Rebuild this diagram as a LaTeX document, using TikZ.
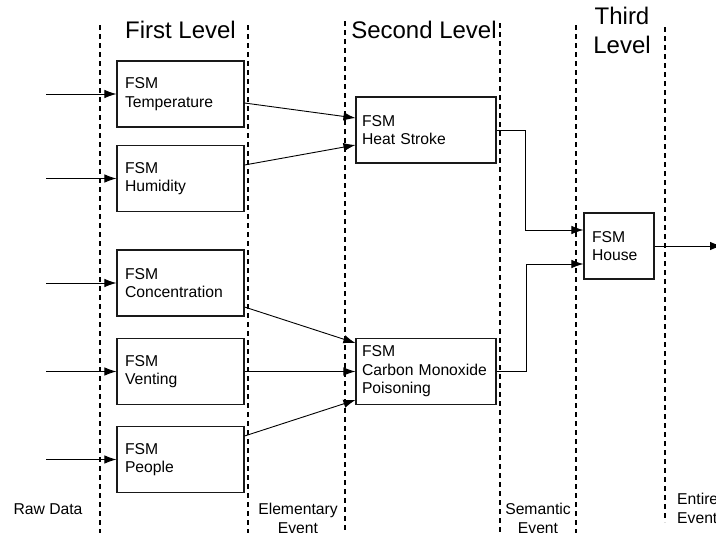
\documentclass[tikz,border=0pt]{standalone}
\usepackage{fontspec}
\setmainfont{Liberation Sans}
\usetikzlibrary{arrows.meta, positioning}

\begin{document}
\begin{tikzpicture}[x=1pt, y=-1pt,
  fsm/.style={draw=black!90, line width=1.1pt, align=left, inner xsep=8pt,
    minimum height=66pt, font=\fontsize{15.7}{18.5}\selectfont},
  lvlone/.style={fsm, text width=111pt},
  lvltwo/.style={fsm, inner xsep=6pt, text width=128pt},
  lvlthree/.style={fsm, text width=54pt},
  lane/.style={dashed, dash pattern=on 5pt off 4pt, line width=1.1pt},
  flow/.style={line width=0.9pt, -{Latex[length=12pt, width=8.5pt]}},
  head/.style={align=center, font=\fontsize{24}{29}\selectfont},
  foot/.style={align=center, font=\fontsize{15.7}{19}\selectfont}]
\useasboundingbox (0,0) rectangle (716,533);
\draw [lane] (100.000000,25.000000) -- (100.000000,533.000000);
\draw [lane] (248.000000,25.000000) -- (248.000000,533.000000);
\draw [lane] (345.000000,21.000000) -- (345.000000,533.000000);
\draw [lane] (500.000000,23.000000) -- (500.000000,533.000000);
\draw [lane] (576.000000,25.000000) -- (576.000000,533.000000);
\draw [lane] (665.000000,27.000000) -- (665.000000,522.000000);
\node (head1) at (180.500000,30.000000) [head] {First Level};
\node (head2) at (424.000000,30.000000) [head] {Second Level};
\node (head3) at (622.000000,30.000000) [head] {Third\\Level};
\node (foot0) at (48.000000,509.000000) [foot] {Raw Data};
\node (foot1) at (298.000000,518.000000) [foot] {Elementary\\Event};
\node (foot2) at (538.000000,518.000000) [foot] {Semantic\\Event};
\node (foot3) at (677.000000,508.000000) [foot, align=left, anchor=west, inner sep=0pt] {Entire\\Event};
\node (temp) at (180.500000,94.000000) [lvlone] {FSM\\Temperature};
\node (humid) at (180.500000,178.500000) [lvlone] {FSM\\Humidity};
\node (conc) at (180.500000,283.000000) [lvlone] {FSM\\Concentration};
\node (vent) at (180.500000,371.500000) [lvlone] {FSM\\Venting};
\node (people) at (180.500000,459.500000) [lvlone] {FSM\\People};
\node (heat) at (426.000000,130.000000) [lvltwo] {FSM\\Heat Stroke};
\node (carbon) at (426.000000,371.500000) [lvltwo] {FSM\\Carbon Monoxide\\Poisoning};
\node (house) at (619.000000,246.000000) [lvlthree] {FSM\\House};
\coordinate (raw1) at (46.000000,94.000000);
\coordinate (raw2) at (46.000000,178.500000);
\coordinate (raw3) at (46.000000,283.000000);
\coordinate (raw4) at (46.000000,371.500000);
\coordinate (raw5) at (46.000000,459.500000);
\coordinate (entire) at (722.000000,246.000000);
\draw [flow] (raw1) -- (temp);
\draw [flow] (raw2) -- (humid);
\draw [flow] (raw3) -- (conc);
\draw [flow] (raw4) -- (vent);
\draw [flow] (raw5) -- (people);
\draw [flow] ([yshift=-9pt]temp.east) -- ([yshift=12pt]heat.west);
\draw [flow] ([yshift=13.5pt]humid.east) -- ([yshift=-15pt]heat.west);
\draw [flow] ([yshift=-24pt]conc.east) -- ([yshift=28.5pt]carbon.west);
\draw [flow] (vent.east) -- (carbon.west);
\draw [flow] ([yshift=23.5pt]people.east) -- ([yshift=-28.5pt]carbon.west);
\draw [flow] (heat.east) -- ++(29,0) |- ([yshift=16pt]house.west);
\draw [flow] (carbon.east) -- ++(30,0) |- ([yshift=-18pt]house.west);
\draw [flow] (house) -- (entire);
\end{tikzpicture}
\end{document}
